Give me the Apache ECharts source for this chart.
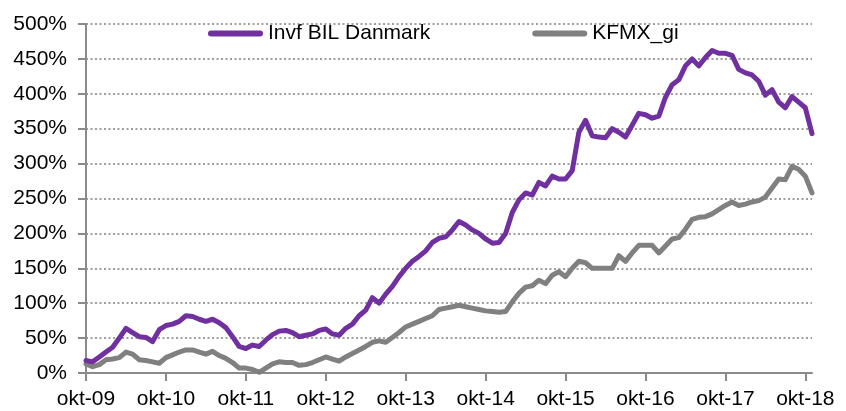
<!DOCTYPE html>
<html>
<head>
<meta charset="utf-8">
<script src="https://cdn.jsdelivr.net/npm/echarts@6/dist/echarts.min.js"></script>
<style>
html,body{margin:0;padding:0;background:#fff;}
#chart{width:846px;height:411px;}
</style>
</head>
<body>
<div id="chart"></div>
<script>
// Danish month abbreviations used to build the monthly category labels (okt-09 .. nov-18)
var monthNames = ['jan','feb','mar','apr','maj','jun','jul','aug','sep','okt','nov','dec'];
var startYear = 2009, startMonth = 9, nMonths = 110;
var categories = [];
for (var i = 0; i < nMonths; i++) {
  var m = (startMonth + i) % 12;
  var y = startYear + Math.floor((startMonth + i) / 12);
  categories.push(monthNames[m] + '-' + String(y % 100).padStart(2, '0'));
}

var seriesNames = ['Invf BIL Danmark', 'KFMX_gi'];

// Invf BIL Danmark, cumulative return in %
var invfBil = [
  18,16,23,30,37,50,64,58,52,51,
  45,62,68,70,74,82,81,77,74,77,
  72,65,52,38,35,40,38,47,55,60,
  61,58,52,54,56,61,63,56,54,64,
  70,82,90,108,100,113,124,138,150,160,
  167,175,187,193,195,205,217,212,205,200,
  192,186,187,200,230,248,258,255,273,268,
  282,278,278,290,345,362,340,338,337,350,
  345,338,355,372,370,365,368,395,413,420,
  440,450,440,452,462,458,458,455,435,430,
  427,418,398,406,388,380,396,388,380,343
];

// KFMX_gi, cumulative return in %
var kfmx = [
  13,9,12,19,20,22,30,27,19,18,
  16,14,22,26,30,33,33,30,27,31,
  25,21,15,7,7,5,1,7,13,16,
  15,15,11,12,15,19,23,20,17,23,
  28,33,38,44,46,44,51,58,66,70,
  74,78,82,91,93,95,97,95,93,91,
  89,88,87,88,102,114,123,125,133,128,
  140,145,138,150,160,158,150,150,150,150,
  168,160,172,183,183,183,172,182,192,194,
  206,220,223,224,228,234,240,245,240,242,
  245,247,252,265,278,277,296,292,282,258
];

var yMin = 0, yMax = 500, yStep = 50;
var colors = ['#7030a0', '#808080'];

var chart = echarts.init(document.getElementById('chart'), null, {renderer: 'canvas'});
var font = 'Liberation Sans, Arial, sans-serif';
var capsule = 'path://M3,0 L52,0 A3,3 0 0 1 52,6 L3,6 A3,3 0 0 1 3,0 Z';
chart.setOption({
  animation: false,
  backgroundColor: '#ffffff',
  color: colors,
  legend: {
    data: [{name: seriesNames[0], icon: capsule}, {name: seriesNames[1], icon: capsule}],
    left: 203,
    top: 18,
    itemWidth: 55,
    itemHeight: 6,
    itemGap: 102,
    textStyle: {fontFamily: font, fontSize: 21, color: '#000'}
  },
  grid: {left: 86, right: 34, top: 24, bottom: 38, containLabel: false},
  xAxis: {
    type: 'category',
    data: categories,
    boundaryGap: false,
    axisLine: {lineStyle: {color: '#8a8a8a', width: 2}},
    axisTick: {show: true, interval: 11, length: 8, lineStyle: {color: '#8a8a8a', width: 2}},
    axisLabel: {interval: 11, margin: 16, fontFamily: font, fontSize: 21, color: '#000'},
    splitLine: {show: false}
  },
  yAxis: {
    type: 'value',
    min: yMin, max: yMax, interval: yStep,
    axisLine: {show: true, lineStyle: {color: '#8a8a8a', width: 2}},
    axisTick: {show: true, length: 8, lineStyle: {color: '#8a8a8a', width: 2}},
    axisLabel: {margin: 19, fontFamily: font, fontSize: 21, color: '#000', formatter: function (v) { return v + '%'; }},
    splitLine: {show: true, lineStyle: {color: '#808080', width: 1.5, type: [2, 2.5]}}
  },
  series: [
    {name: seriesNames[0], type: 'line', data: invfBil, symbol: 'none', z: 3,
     lineStyle: {width: 5, color: colors[0], cap: 'round', join: 'round'}},
    {name: seriesNames[1], type: 'line', data: kfmx, symbol: 'none', z: 2,
     lineStyle: {width: 5, color: colors[1], cap: 'round', join: 'round'}}
  ]
});
</script>
</body>
</html>
